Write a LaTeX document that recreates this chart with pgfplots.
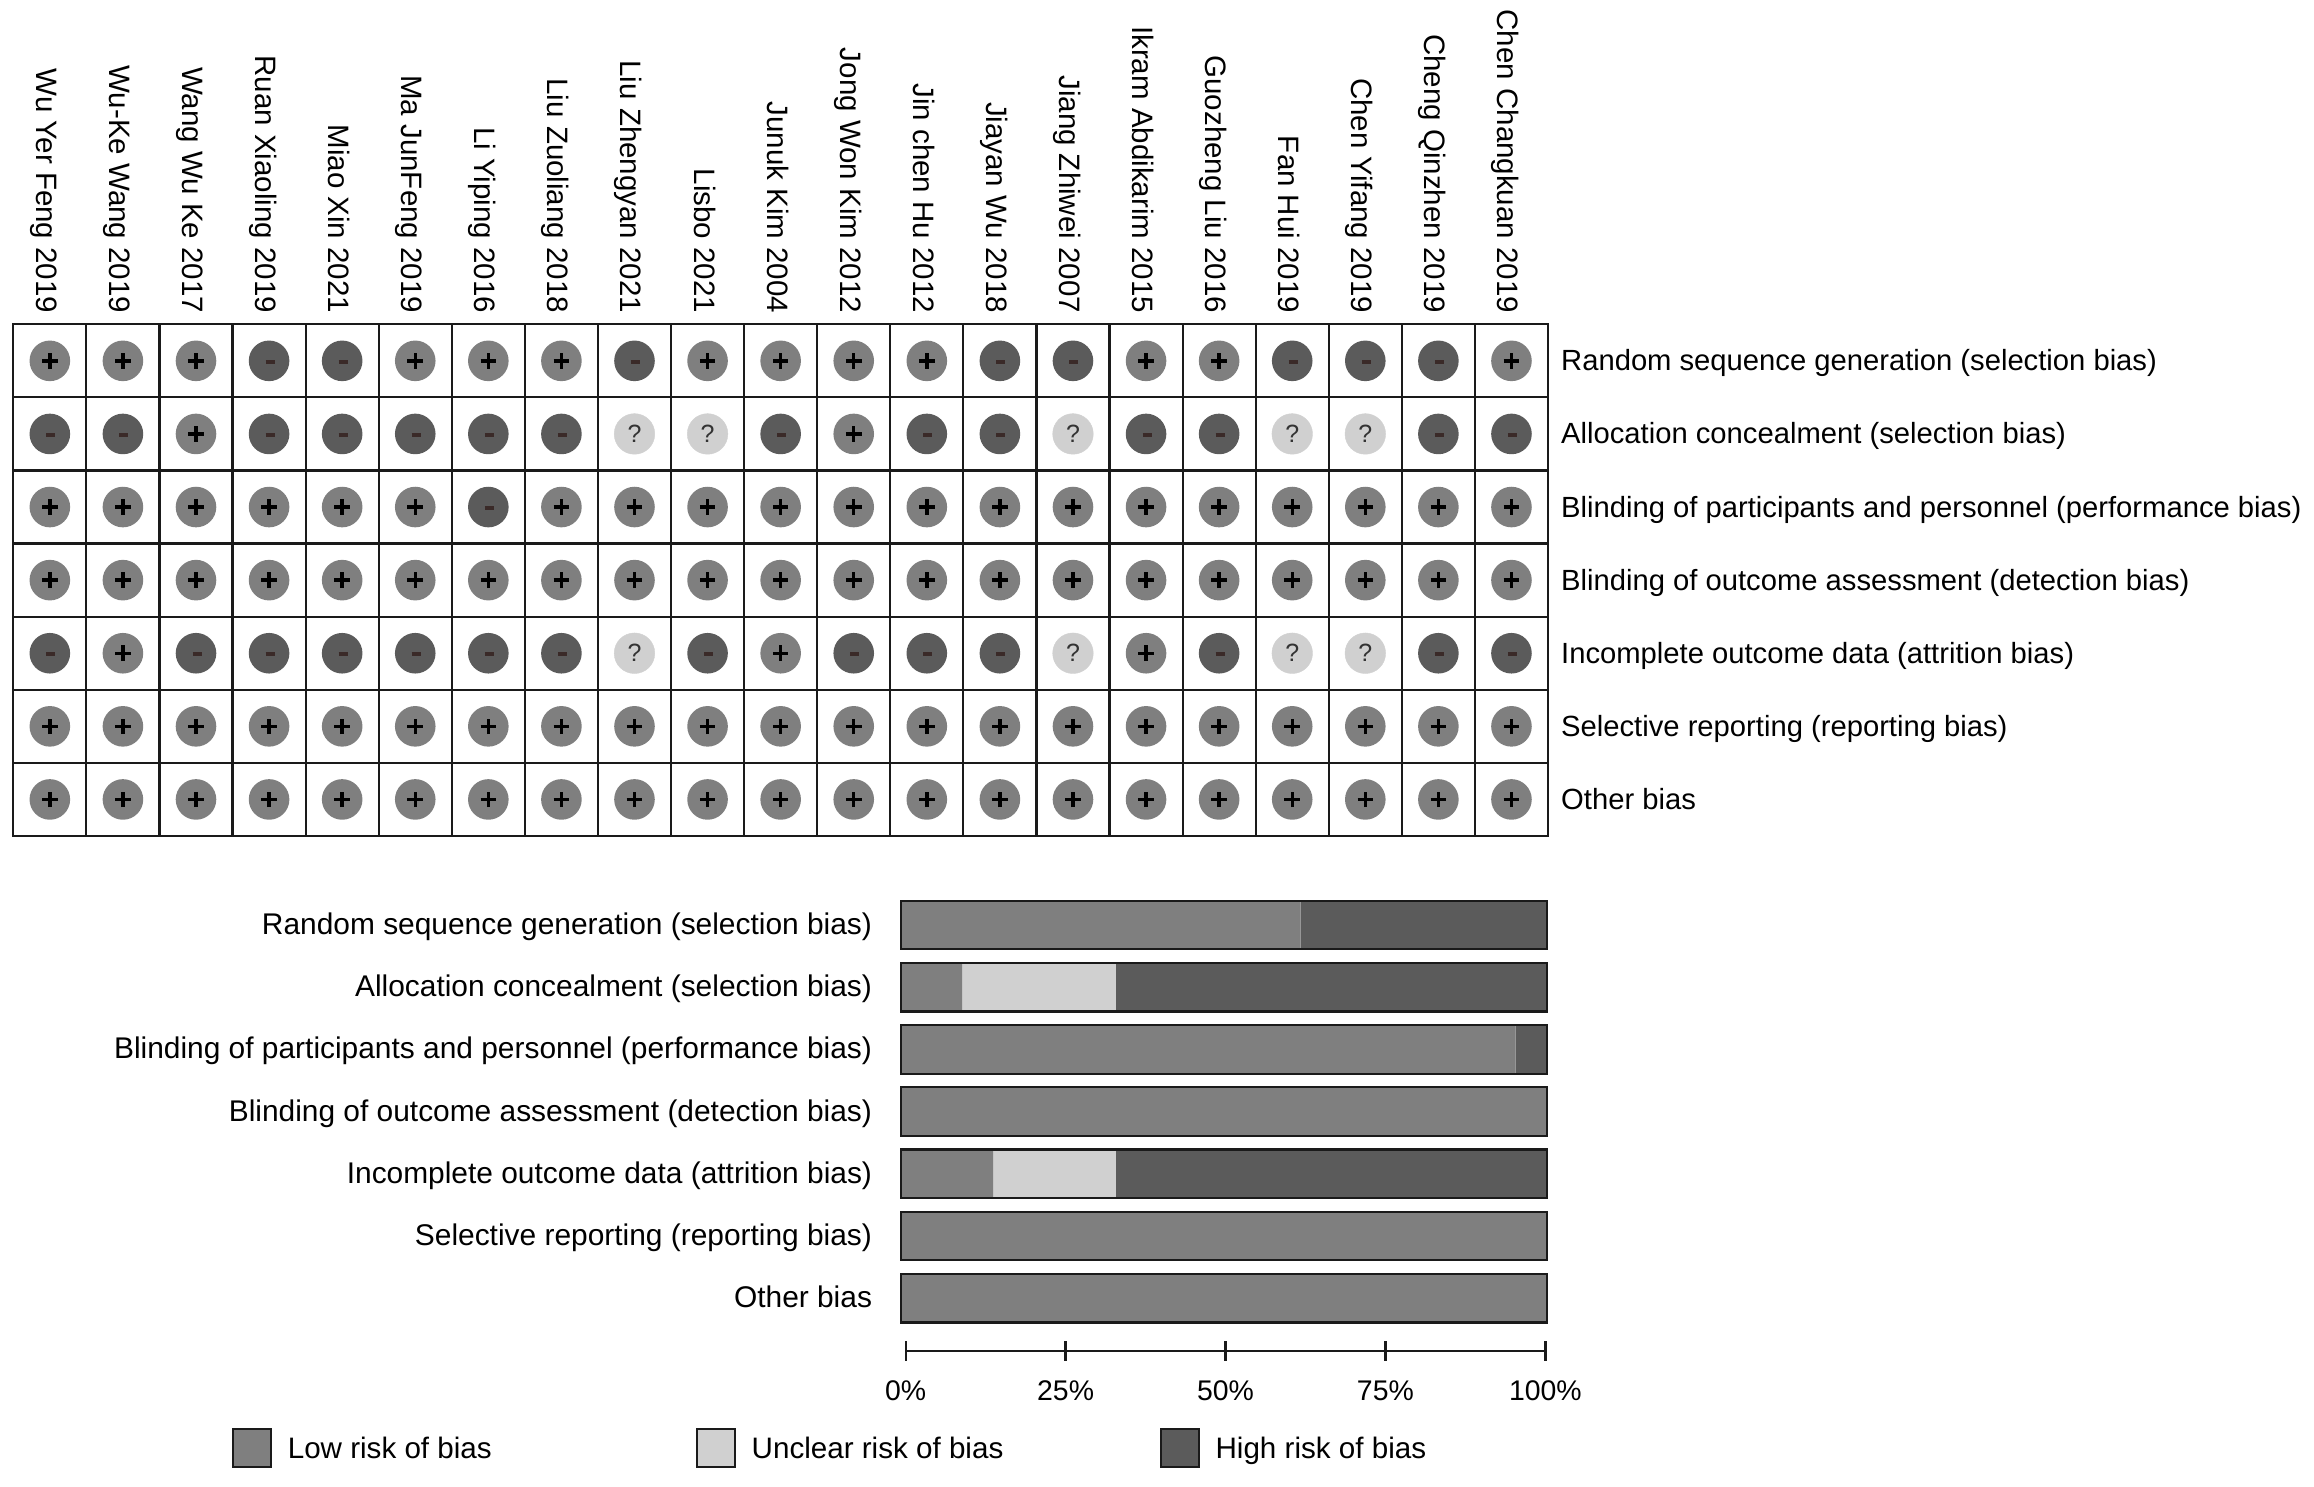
\documentclass[border=0pt]{standalone}
\usepackage{fontspec}
\setmainfont{Liberation Sans}
\usepackage{pgfplots}
\usepackage{pgfplotstable}
\pgfplotsset{compat=1.18}

\definecolor{lowc}{HTML}{7F7F7F}
\definecolor{unclearc}{HTML}{D0D0D0}
\definecolor{highc}{HTML}{5B5B5B}
\definecolor{edgec}{HTML}{1A1A1A}

% one picture pt = one reference pixel
\newcommand{\namefont}{\fontsize{29.5}{32}\selectfont}
\newcommand{\labfont}{\fontsize{29.2}{32}\selectfont}
\newcommand{\barfont}{\fontsize{29.9}{32}\selectfont}

\pgfdeclareplotmark{lowrisk}{%
  \pgfsetfillcolor{lowc}\pgfpathcircle{\pgfpointorigin}{20.3pt}\pgfusepathqfill
  \pgfsetstrokecolor{black}\pgfsetlinewidth{3.4pt}\pgfsetbuttcap
  \pgfpathmoveto{\pgfqpoint{-7.8pt}{0pt}}\pgfpathlineto{\pgfqpoint{7.8pt}{0pt}}
  \pgfpathmoveto{\pgfqpoint{0pt}{-7.8pt}}\pgfpathlineto{\pgfqpoint{0pt}{7.8pt}}
  \pgfusepathqstroke}
\pgfdeclareplotmark{highrisk}{%
  \pgfsetfillcolor{highc}\pgfpathcircle{\pgfpointorigin}{20.3pt}\pgfusepathqfill
  \definecolor{minusc}{HTML}{3A2A28}%
  \pgfsetstrokecolor{minusc}\pgfsetlinewidth{3.6pt}\pgfsetbuttcap
  \pgfpathmoveto{\pgfqpoint{-3.5pt}{-1pt}}\pgfpathlineto{\pgfqpoint{5.5pt}{-1pt}}
  \pgfusepathqstroke}

% traffic light matrix: col row
\pgfplotstableread{
c r
0 0
1 0
2 0
5 0
6 0
7 0
9 0
10 0
11 0
12 0
15 0
16 0
20 0
2 1
11 1
0 2
1 2
2 2
3 2
4 2
5 2
7 2
8 2
9 2
10 2
11 2
12 2
13 2
14 2
15 2
16 2
17 2
18 2
19 2
20 2
0 3
1 3
2 3
3 3
4 3
5 3
6 3
7 3
8 3
9 3
10 3
11 3
12 3
13 3
14 3
15 3
16 3
17 3
18 3
19 3
20 3
1 4
10 4
15 4
0 5
1 5
2 5
3 5
4 5
5 5
6 5
7 5
8 5
9 5
10 5
11 5
12 5
13 5
14 5
15 5
16 5
17 5
18 5
19 5
20 5
0 6
1 6
2 6
3 6
4 6
5 6
6 6
7 6
8 6
9 6
10 6
11 6
12 6
13 6
14 6
15 6
16 6
17 6
18 6
19 6
20 6
}\lowtab

\pgfplotstableread{
c r
3 0
4 0
8 0
13 0
14 0
17 0
18 0
19 0
0 1
1 1
3 1
4 1
5 1
6 1
7 1
10 1
12 1
13 1
15 1
16 1
19 1
20 1
6 2
0 4
2 4
3 4
4 4
5 4
6 4
7 4
9 4
11 4
12 4
13 4
16 4
19 4
20 4
}\hightab

\pgfplotstableread{
c r
8 1
9 1
14 1
17 1
18 1
8 4
14 4
17 4
18 4
}\unclrtab

% percent of studies per domain
\pgfplotstableread{
r low unclear high
0 61.9 0 38.1
1 9.5 23.8 66.7
2 95.2 0 4.8
3 100 0 0
4 14.3 19 66.7
5 100 0 0
6 100 0 0
}\bartab

\begin{document}
\begin{tikzpicture}
\useasboundingbox (0,0) rectangle (2314pt,1487pt);

% top matrix
\begin{axis}[
    at={(13.3pt,651pt)}, anchor=south west,
    width=1534.7pt, height=511.7pt, scale only axis,
    xmin=-0.5, xmax=20.5, ymin=-0.5, ymax=6.5,
    y dir=reverse, clip=false,
    xtick={0,...,20}, ytick={0,...,6},
    minor xtick={-0.5,0.5,...,20.5}, minor ytick={-0.5,0.5,...,6.5},
    grid=minor, minor grid style={edgec, line width=2.2pt},
    axis line style={edgec, line width=2.2pt},
    major tick length=0pt, minor tick length=0pt,
    xticklabel pos=upper, yticklabel pos=right,
    xticklabels={Wu Yer Feng 2019, Wu-Ke Wang 2019, Wang Wu Ke 2017, Ruan Xiaoling 2019,
        Miao Xin 2021, Ma JunFeng 2019, Li Yiping 2016, Liu Zuoliang 2018, Liu Zhengyan 2021,
        Lisbo 2021, Junuk Kim 2004, Jong Won Kim 2012, Jin chen Hu 2012, Jiayan Wu 2018,
        Jiang Zhiwei 2007, Ikram Abdikarim 2015, Guozheng Liu 2016, Fan Hui 2019,
        Chen Yifang 2019, Cheng Qinzhen 2019, Chen Changkuan 2019},
    yticklabels={Random sequence generation (selection bias),
        Allocation concealment (selection bias),
        Blinding of participants and personnel (performance bias),
        Blinding of outcome assessment (detection bias),
        Incomplete outcome data (attrition bias),
        Selective reporting (reporting bias),
        Other bias},
    xticklabel style={font=\namefont, rotate=-90, anchor=east, inner sep=0pt,
        text height=21pt, text depth=6pt, yshift=-6pt},
    xticklabel shift=11pt,
    yticklabel style={font=\labfont, anchor=west, inner sep=0pt,
        text height=21pt, text depth=6pt, yshift=-2.5pt},
    yticklabel shift=13pt,
]
\addplot[only marks, mark=lowrisk] table[x=c, y=r] {\lowtab};
\addplot[only marks, mark=highrisk] table[x=c, y=r] {\hightab};
\addplot[only marks, mark=*, mark size=20.3pt, color=unclearc,
    nodes near coords={?},
    nodes near coords style={anchor=center, text=black!80, inner sep=0pt,
        font=\fontsize{25}{27}\selectfont}]
    table[x=c, y=r] {\unclrtab};
\end{axis}

% stacked summary bars
\begin{axis}[
    at={(900.7pt,157.7pt)}, anchor=south west,
    width=646pt, height=435.4pt, scale only axis,
    xmin=0, xmax=100, ymin=-0.5, ymax=6.5,
    y dir=reverse, clip=false,
    xbar stacked, bar width=48.5pt,
    hide x axis,
    axis y line*=left, y axis line style={draw=none},
    major tick length=0pt,
    ytick={0,...,6},
    yticklabels={Random sequence generation (selection bias),
        Allocation concealment (selection bias),
        Blinding of participants and personnel (performance bias),
        Blinding of outcome assessment (detection bias),
        Incomplete outcome data (attrition bias),
        Selective reporting (reporting bias),
        Other bias},
    yticklabel style={font=\barfont, anchor=east, inner sep=0pt,
        text height=21pt, text depth=6pt, yshift=-2pt},
    yticklabel shift=28.5pt,
    legend columns=3,
    legend cell align=left,
    legend style={at={(-669pt,-533.4pt)}, anchor=north west, draw=none, fill=none,
        inner sep=0pt, font=\fontsize{29.6}{32}\selectfont, row sep=0pt,
        /tikz/every odd column/.style={column sep=13.5pt}},
    legend image code/.code={%
        \draw[#1, draw=edgec, line width=2.4pt] (0pt,-19pt) rectangle (38pt,19pt);},
]
\addplot[draw=none, fill=lowc] table[x=low, y=r] {\bartab};
\addplot[draw=none, fill=unclearc] table[x=unclear, y=r] {\bartab};
\addplot[draw=none, fill=highc] table[x=high, y=r] {\bartab};
\legend{\makebox[406pt][l]{\raisebox{-1.5pt}{Low risk of bias}},
    \makebox[406pt][l]{\raisebox{-1.5pt}{Unclear risk of bias}},
    \raisebox{-1.5pt}{High risk of bias}}
\end{axis}

% outlines of the bars
\begin{axis}[
    at={(900.7pt,157.7pt)}, anchor=south west,
    width=646pt, height=435.4pt, scale only axis,
    xmin=0, xmax=100, ymin=-0.5, ymax=6.5,
    y dir=reverse, clip=false,
    xbar, bar width=48.5pt,
    hide x axis, hide y axis,
]
\addplot[draw=edgec, line width=2.2pt, fill=none] coordinates {
    (100,0) (100,1) (100,2) (100,3) (100,4) (100,5) (100,6)};
\end{axis}

% percent axis
\begin{axis}[
    at={(905.7pt,136pt)}, anchor=south west,
    width=639.6pt, height=10pt, scale only axis,
    xmin=0, xmax=100, ymin=0, ymax=1,
    axis x line*=bottom, hide y axis,
    x axis line style={edgec, line width=2.4pt},
    xtick={0,25,50,75,100},
    xticklabels={0\%,25\%,50\%,75\%,100\%},
    tick align=center, major tick length=19.3pt,
    tick style={edgec, line width=2.4pt},
    xticklabel style={font=\fontsize{28.4}{30}\selectfont, inner sep=0pt},
    xticklabel shift=19.5pt,
]
\end{axis}
\end{tikzpicture}
\end{document}
